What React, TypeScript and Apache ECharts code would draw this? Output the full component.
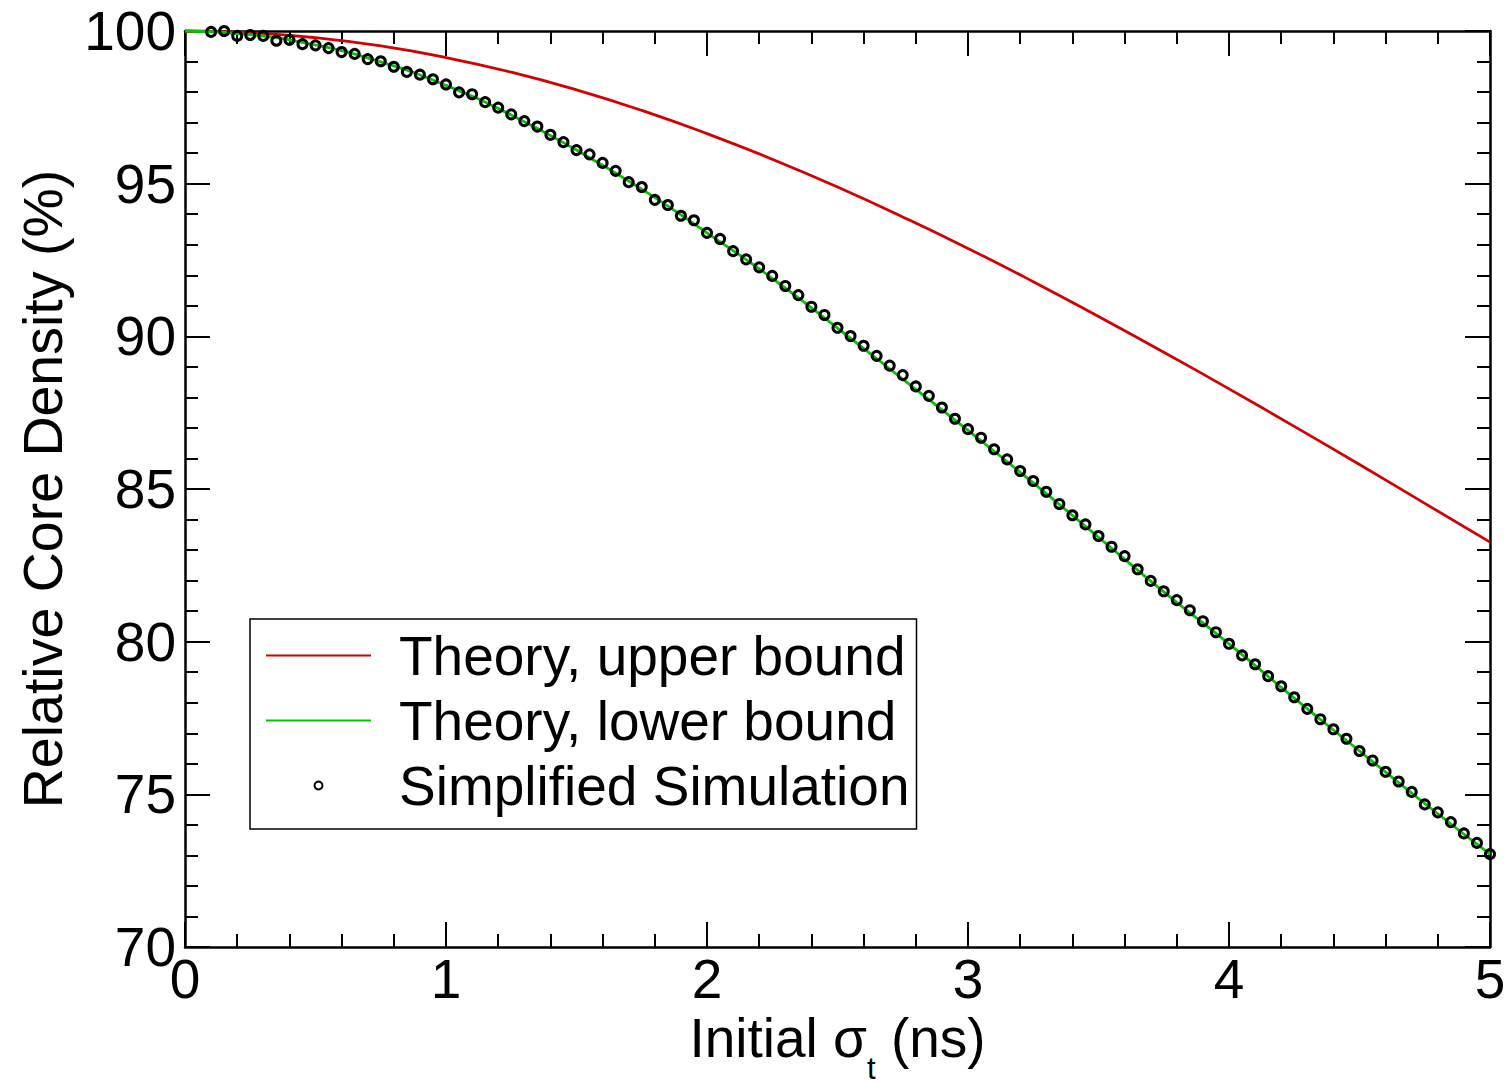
import React, { useEffect, useRef } from "react";
import * as echarts from "echarts";

const FONT = '"Liberation Sans", Arial, Helvetica, sans-serif';

// Theory curves (x in ns, y in %)
const theoryX = [0, 0.25, 0.5, 0.75, 1, 1.25, 1.5, 1.75, 2, 2.25, 2.5, 2.75, 3, 3.25, 3.5, 3.75, 4, 4.25, 4.5, 4.75, 5];
const upperBound = [100, 99.945, 99.78, 99.51, 99.13, 98.65, 98.07, 97.4, 96.64, 95.8, 94.89, 93.91, 92.88, 91.79, 90.65, 89.48, 88.28, 87.05, 85.8, 84.53, 83.26];
const lowerBound = [100, 99.88, 99.54, 98.99, 98.22, 97.25, 96.1, 94.82, 93.39, 91.9, 90.27, 88.6, 86.92, 85.2, 83.42, 81.63, 79.93, 78.15, 76.42, 74.7, 73.04];

// Simplified simulation points
const simX = [
  0.1, 0.15, 0.2, 0.25, 0.3, 0.35, 0.4, 0.45, 0.5, 0.55, 0.6, 0.65, 0.7, 0.75, 0.8, 0.85, 0.9, 0.95,
  1.0, 1.05, 1.1, 1.15, 1.2, 1.25, 1.3, 1.35, 1.4, 1.45, 1.5, 1.55, 1.6, 1.65, 1.7, 1.75, 1.8, 1.85, 1.9, 1.95,
  2.0, 2.05, 2.1, 2.15, 2.2, 2.25, 2.3, 2.35, 2.4, 2.45, 2.5, 2.55, 2.6, 2.65, 2.7, 2.75, 2.8, 2.85, 2.9, 2.95,
  3.0, 3.05, 3.1, 3.15, 3.2, 3.25, 3.3, 3.35, 3.4, 3.45, 3.5, 3.55, 3.6, 3.65, 3.7, 3.75, 3.8, 3.85, 3.9, 3.95,
  4.0, 4.05, 4.1, 4.15, 4.2, 4.25, 4.3, 4.35, 4.4, 4.45, 4.5, 4.55, 4.6, 4.65, 4.7, 4.75, 4.8, 4.85, 4.9, 4.95,
  5.0,
];
const simY = [
  99.97, 100.0, 99.84, 99.87, 99.84, 99.68, 99.71, 99.57, 99.53, 99.44, 99.31, 99.25, 99.08, 99.01, 98.83, 98.66, 98.57, 98.42,
  98.25, 97.99, 97.93, 97.67, 97.49, 97.27, 97.05, 96.87, 96.6, 96.36, 96.1, 95.96, 95.68, 95.42, 95.05, 94.89, 94.47, 94.3, 93.95, 93.8,
  93.39, 93.19, 92.79, 92.52, 92.26, 91.98, 91.65, 91.35, 90.97, 90.7, 90.28, 90.01, 89.69, 89.36, 89.04, 88.73, 88.36, 88.05, 87.67, 87.3,
  86.96, 86.68, 86.3, 85.97, 85.59, 85.26, 84.91, 84.51, 84.14, 83.84, 83.46, 83.11, 82.8, 82.37, 81.99, 81.65, 81.36, 81.03, 80.67, 80.31,
  79.93, 79.55, 79.26, 78.87, 78.54, 78.18, 77.8, 77.46, 77.13, 76.82, 76.42, 76.11, 75.74, 75.42, 75.08, 74.67, 74.41, 74.09, 73.72, 73.41,
  73.04,
];

const xMin = 0, xMax = 5, xStep = 1;
const yMin = 70, yMax = 100, yStep = 5;

const seriesNames = ["Theory, upper bound", "Theory, lower bound", "Simplified Simulation"];

export default function App() {
  const ref = useRef<HTMLDivElement>(null);
  useEffect(() => {
    document.body.style.margin = "0";
    const chart = echarts.init(ref.current!, null, { renderer: "svg" });
    const tickStyle = { color: "#000", width: 2 };
    const axisCommon = {
      axisLine: { show: true, onZero: false, lineStyle: { color: "#000", width: 2.5 } },
      axisTick: { show: true, inside: true, length: 25, lineStyle: tickStyle },
      minorTick: { show: true, splitNumber: 5, length: 13, lineStyle: tickStyle },
      splitLine: { show: false },
      minorSplitLine: { show: false },
    };
    chart.setOption({
      animation: false,
      backgroundColor: "#fff",
      textStyle: { fontFamily: FONT, color: "#000" },
      grid: { left: 185, top: 31, width: 1305, height: 916, containLabel: false, outerBoundsMode: "none" },
      xAxis: [
        {
          type: "value", min: xMin, max: xMax, interval: xStep, position: "bottom",
          ...axisCommon,
          axisLabel: { fontSize: 55, color: "#000", fontFamily: FONT, margin: 4 },
          name: "{m|Initial σ}{s|t}{m| (ns)}",
          nameLocation: "middle",
          nameGap: 30,
          nameTextStyle: {
            rich: {
              m: { fontSize: 55, lineHeight: 55, color: "#000", fontFamily: FONT, verticalAlign: "top" },
              s: { fontSize: 31, lineHeight: 31, color: "#000", fontFamily: FONT, verticalAlign: "top", padding: [42, 0, 0, 0] },
            },
          },
        },
        {
          type: "value", min: xMin, max: xMax, interval: xStep, position: "top",
          ...axisCommon,
          axisLabel: { show: false },
        },
      ],
      yAxis: [
        {
          type: "value", min: yMin, max: yMax, interval: yStep, position: "left",
          ...axisCommon,
          axisLabel: { fontSize: 55, color: "#000", fontFamily: FONT, margin: 9 },
          name: "Relative Core Density (%)",
          nameLocation: "middle",
          nameGap: 114,
          nameTextStyle: { fontSize: 55.5, color: "#000", fontFamily: FONT },
        },
        {
          type: "value", min: yMin, max: yMax, interval: yStep, position: "right",
          ...axisCommon,
          axisLabel: { show: false },
        },
      ],
      legend: {
        orient: "vertical",
        left: 250,
        top: 619,
        itemWidth: 105,
        itemHeight: 8,
        itemGap: 10,
        padding: [9, 7, 16, 15],
        borderColor: "#000",
        borderWidth: 1.5,
        backgroundColor: "#fff",
        textStyle: { fontSize: 55, lineHeight: 55, color: "#000", fontFamily: FONT, padding: [0, 0, 0, 23] },
        data: [
          { name: seriesNames[0], itemStyle: { opacity: 0 } },
          { name: seriesNames[1], itemStyle: { opacity: 0 } },
          { name: seriesNames[2], icon: "circle", itemStyle: { color: "transparent", borderColor: "#000", borderWidth: 2 } },
        ],
      },
      series: [
        {
          name: seriesNames[0],
          type: "line",
          data: theoryX.map((x, i) => [x, upperBound[i]]),
          smooth: true,
          symbol: "none",
          showSymbol: false,
          clip: false,
          lineStyle: { color: "#d40000", width: 2.8 },
          itemStyle: { color: "#d40000" },
          z: 2,
        },
        {
          name: seriesNames[1],
          type: "line",
          data: theoryX.map((x, i) => [x, lowerBound[i]]),
          smooth: true,
          symbol: "none",
          showSymbol: false,
          clip: false,
          lineStyle: { color: "#00c800", width: 2.8 },
          itemStyle: { color: "#00c800" },
          z: 2,
        },
        {
          name: seriesNames[2],
          type: "scatter",
          data: simX.map((x, i) => [x, simY[i]]),
          symbol: "circle",
          symbolSize: 9,
          clip: false,
          itemStyle: { color: "rgba(0,0,0,0)", borderColor: "#000", borderWidth: 3, opacity: 1 },
          z: 3,
        },
      ],
    });
    return () => chart.dispose();
  }, []);
  return <div ref={ref} style={{ width: 1509, height: 1081 }} />;
}
